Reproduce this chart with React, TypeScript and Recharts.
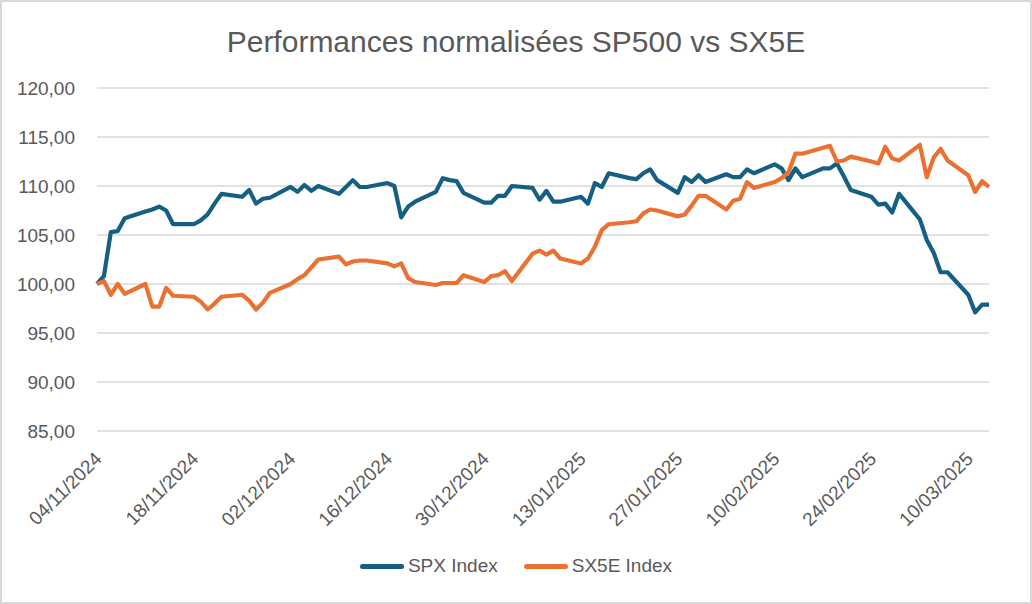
import React from 'react';
import { LineChart, Line, XAxis, YAxis, CartesianGrid } from 'recharts';

const dates: string[] = [
  '04/11/2024','05/11/2024','06/11/2024','07/11/2024','08/11/2024',
  '11/11/2024','12/11/2024','13/11/2024','14/11/2024','15/11/2024',
  '18/11/2024','19/11/2024','20/11/2024','21/11/2024','22/11/2024',
  '25/11/2024','26/11/2024','27/11/2024','28/11/2024','29/11/2024',
  '02/12/2024','03/12/2024','04/12/2024','05/12/2024','06/12/2024',
  '09/12/2024','10/12/2024','11/12/2024','12/12/2024','13/12/2024',
  '16/12/2024','17/12/2024','18/12/2024','19/12/2024','20/12/2024',
  '23/12/2024','24/12/2024','25/12/2024','26/12/2024','27/12/2024',
  '30/12/2024','31/12/2024','01/01/2025','02/01/2025','03/01/2025',
  '06/01/2025','07/01/2025','08/01/2025','09/01/2025','10/01/2025',
  '13/01/2025','14/01/2025','15/01/2025','16/01/2025','17/01/2025',
  '20/01/2025','21/01/2025','22/01/2025','23/01/2025','24/01/2025',
  '27/01/2025','28/01/2025','29/01/2025','30/01/2025','31/01/2025',
  '03/02/2025','04/02/2025','05/02/2025','06/02/2025','07/02/2025',
  '10/02/2025','11/02/2025','12/02/2025','13/02/2025','14/02/2025',
  '17/02/2025','18/02/2025','19/02/2025','20/02/2025','21/02/2025',
  '24/02/2025','25/02/2025','26/02/2025','27/02/2025','28/02/2025',
  '03/03/2025','04/03/2025','05/03/2025','06/03/2025','07/03/2025',
  '10/03/2025','11/03/2025','12/03/2025','13/03/2025',
];

const spx: number[] = [
  100.0, 100.8, 105.3, 105.4, 106.7,
  107.4, 107.6, 107.9, 107.5, 106.1,
  106.1, 106.5, 107.1, 108.2, 109.2,
  108.9, 109.6, 108.2, 108.7, 108.8,
  109.9, 109.4, 110.1, 109.5, 110.0,
  109.2, 109.9, 110.6, 109.9, 109.9,
  110.3, 110.0, 106.8, 107.9, 108.4,
  109.4, 110.8, 110.6, 110.5, 109.3,
  108.3, 108.3, 109.0, 109.0, 110.0,
  109.8, 108.6, 109.5, 108.4, 108.4,
  108.9, 108.2, 110.3, 109.9, 111.3,
  110.8, 110.7, 111.3, 111.7, 110.6,
  109.3, 110.9, 110.4, 111.1, 110.4,
  111.2, 110.9, 110.9, 111.7, 111.3,
  112.2, 111.8, 110.6, 111.8, 110.9,
  111.8, 111.8, 112.3, 111.0, 109.6,
  108.9, 108.1, 108.2, 107.3, 109.2,
  106.6, 104.5, 103.2, 101.2, 101.2,
  98.9, 97.1, 97.9, 97.9,
];

const sx5e: number[] = [
  100.0, 100.3, 98.9, 100.0, 99.0,
  100.0, 97.7, 97.7, 99.6, 98.8,
  98.7, 98.2, 97.4, 98.0, 98.7,
  98.9, 98.3, 97.4, 98.1, 99.1,
  100.0, 100.5, 100.9, 101.7, 102.5,
  102.8, 102.0, 102.3, 102.4, 102.4,
  102.1, 101.8, 102.1, 100.6, 100.2,
  99.9, 100.1, 100.1, 100.1, 100.9,
  100.2, 100.8, 100.9, 101.3, 100.3,
  103.1, 103.4, 103.0, 103.4, 102.6,
  102.1, 102.6, 103.8, 105.5, 106.1,
  106.3, 106.4, 107.2, 107.6, 107.5,
  106.9, 107.1, 108.0, 109.0, 109.0,
  107.6, 108.5, 108.7, 110.4, 109.8,
  110.4, 110.8, 111.4, 113.3, 113.3,
  113.9, 114.1, 112.5, 112.6, 113.0,
  112.5, 112.3, 114.0, 112.8, 112.6,
  114.2, 110.9, 112.9, 113.8, 112.6,
  111.1, 109.4, 110.5, 109.9,
];

const xTickLabels: string[] = [
  '04/11/2024', '18/11/2024', '02/12/2024', '16/12/2024', '30/12/2024',
  '13/01/2025', '27/01/2025', '10/02/2025', '24/02/2025', '10/03/2025',
];
const yTicks: number[] = [85, 90, 95, 100, 105, 110, 115, 120];
const seriesNames: string[] = ['SPX Index', 'SX5E Index'];
const seriesColors: string[] = ['#156082', '#E97132'];
const title = 'Performances normalisées SP500 vs SX5E';

const toDay = (s: string): number => {
  const [d, m, y] = s.split('/').map(Number);
  return Date.UTC(y, m - 1, d) / 86400000;
};
const fromDay = (n: number): string => {
  const dt = new Date(n * 86400000);
  const dd = String(dt.getUTCDate()).padStart(2, '0');
  const mm = String(dt.getUTCMonth() + 1).padStart(2, '0');
  return `${dd}/${mm}/${dt.getUTCFullYear()}`;
};

const rows = dates.map((d, i) => ({ t: toDay(d), spx: spx[i], sx5e: sx5e[i] }));
const xTicks = xTickLabels.map(toDay);

const FONT = '"Liberation Sans", Arial, sans-serif';
const TEXT = '#595959';

const XTick = (props: any) => {
  const { x, y, payload } = props;
  return (
    <g transform={`translate(${x + 6},${y + 21})`}>
      <text x={0} y={0} textAnchor="end" transform="rotate(-45)" fontSize={19} fill={TEXT} fontFamily={FONT}>
        {fromDay(payload.value)}
      </text>
    </g>
  );
};

export default function App() {
  return (
    <div style={{ position: 'absolute', left: 0, top: 0, width: 1032, height: 604, background: '#fff', fontFamily: FONT }}>
      <div style={{ position: 'absolute', left: 0, top: 0, width: 1032, height: 604, boxSizing: 'border-box', border: '2px solid #d9d9d9', pointerEvents: 'none', zIndex: 2 }} />
      <div style={{ position: 'absolute', left: 0, top: 24, width: 1032, textAlign: 'center', fontSize: 30, color: TEXT, lineHeight: '36px' }}>
        {title}
      </div>
      <div style={{ position: 'absolute', left: 0, top: 0 }}>
        <LineChart width={1032} height={604} data={rows} margin={{ top: 88, right: 43, bottom: 93, left: 0 }}>
          <CartesianGrid horizontal vertical={false} stroke="#d9d9d9" strokeWidth={1.5} />
          <XAxis
            dataKey="t"
            type="number"
            domain={[xTicks[0], rows[rows.length - 1].t]}
            ticks={xTicks}
            height={80}
            axisLine={false}
            tickLine={false}
            tick={<XTick />}
            interval={0}
          />
          <YAxis
            type="number"
            domain={[85, 120]}
            ticks={yTicks}
            width={97}
            axisLine={false}
            tickLine={false}
            tickMargin={16}
            tickFormatter={(v: number) => v.toFixed(2).replace('.', ',')}
            tick={{ fontSize: 19, fill: TEXT, fontFamily: FONT }}
            interval={0}
          />
          <Line type="linear" dataKey="spx" name={seriesNames[0]} stroke={seriesColors[0]} strokeWidth={4.2} dot={false} strokeLinejoin="round" isAnimationActive={false} />
          <Line type="linear" dataKey="sx5e" name={seriesNames[1]} stroke={seriesColors[1]} strokeWidth={4.2} dot={false} strokeLinejoin="round" isAnimationActive={false} />
        </LineChart>
      </div>
      <div style={{ position: 'absolute', left: 0, top: 554, width: 1032, display: 'flex', justifyContent: 'center', alignItems: 'center', gap: 26, fontSize: 19, color: TEXT, lineHeight: '24px' }}>
        {seriesNames.map((n, i) => (
          <div key={n} style={{ display: 'flex', alignItems: 'center' }}>
            <div style={{ width: 44, height: 5, borderRadius: 3, background: seriesColors[i], marginRight: 4 }} />
            <span>{n}</span>
          </div>
        ))}
      </div>
    </div>
  );
}
